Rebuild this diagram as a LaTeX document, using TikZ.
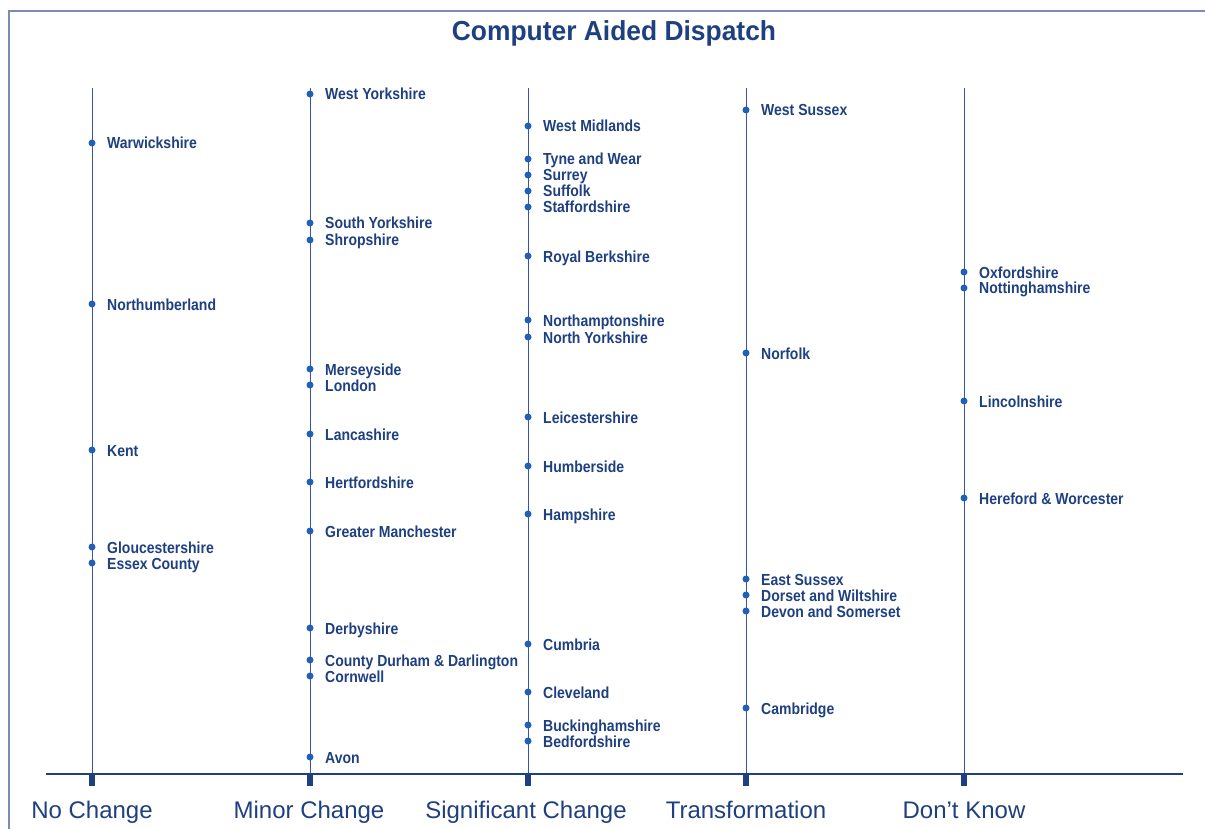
\documentclass[tikz,border=0pt]{standalone}
\usepackage{fontspec}
\setmainfont{Liberation Sans}
\newfontfamily\lblfont[FakeStretch=0.875]{Liberation Sans}
\newfontfamily\ttlfont[FakeStretch=0.96]{Liberation Sans}
\newfontfamily\catfont[FakeStretch=1.0]{Liberation Sans}
\definecolor{navy}{RGB}{30,64,128}
\definecolor{dotblue}{RGB}{32,96,184}
\definecolor{colline}{RGB}{56,84,168}
\definecolor{frame}{RGB}{120,140,180}
\tikzset{
  lbl/.style={anchor=base west, inner sep=0pt, text=navy, font=\lblfont\bfseries\fontsize{16}{18}\selectfont},
  dotnode/.style={circle, fill=dotblue, draw=none, inner sep=0pt, minimum size=7pt},
  catlbl/.style={anchor=base, inner sep=0pt, text=navy, font=\catfont\fontsize{24}{28}\selectfont},
  ttl/.style={anchor=base, inner sep=0pt, text=navy, font=\ttlfont\bfseries\fontsize{27.5}{30}\selectfont},
  tickmark/.style={rectangle, fill=navy, draw=none, inner sep=0pt, minimum width=5.5pt, minimum height=12pt},
  colline/.style={draw=colline, line width=1pt},
  axisline/.style={draw=navy, line width=1.4pt},
  framel/.style={draw=frame, line width=1.1pt}
}
\begin{document}
\begin{tikzpicture}[x=1pt,y=-1pt]
\useasboundingbox (0,0) rectangle (1205,829);
\fill[white] (0,0) rectangle (1205,829);
% frame
\coordinate (fbl) at (9,829);
\coordinate (ftl) at (9,11);
\coordinate (ftr) at (1205,11);
\draw[framel] (fbl) -- (ftl) -- (ftr);
% title
\node[ttl] (title) at (614,41) {Computer Aided Dispatch};
% columns: tops, ticks, lines
\foreach \c/\x in {1/92,2/310,3/528,4/746,5/964}{
  \coordinate (top\c) at (\x,88);
  \node[tickmark] (tick\c) at (\x,780) {};
  \draw[colline] (top\c) -- (tick\c.north);
}
% axis
\coordinate (axL) at (46,774);
\coordinate (axR) at (1183,774);
\draw[axisline] (axL) -- (axR);
% category labels
\node[catlbl] (cat1) at (92,818) {No Change};
\node[catlbl] (cat2) at (309,818) {Minor Change};
\node[catlbl] (cat3) at (526,818) {Significant Change};
\node[catlbl] (cat4) at (746,818) {Transformation};
\node[catlbl] (cat5) at (964,818) {Don’t Know};
% column 1
\foreach \y/\t [count=\i] in {143/Warwickshire,304/Northumberland,450/Kent,547/Gloucestershire,563/Essex County}{
  \node[dotnode] (a\i) at (92,\y) {};
  \node[lbl] (la\i) at (107,\y+6) {\t};
}
% column 2
\foreach \y/\t [count=\i] in {94/West Yorkshire,223/South Yorkshire,240/Shropshire,369/Merseyside,385/London,434/Lancashire,482/Hertfordshire,531/Greater Manchester,628/Derbyshire,660/County Durham \& Darlington,676/Cornwell,757/Avon}{
  \node[dotnode] (b\i) at (310,\y) {};
  \node[lbl] (lb\i) at (325,\y+6) {\t};
}
% column 3
\foreach \y/\t [count=\i] in {126/West Midlands,159/Tyne and Wear,175/Surrey,191/Suffolk,207/Staffordshire,256/Royal Berkshire,320/Northamptonshire,337/North Yorkshire,417/Leicestershire,466/Humberside,514/Hampshire,644/Cumbria,692/Cleveland,725/Buckinghamshire,741/Bedfordshire}{
  \node[dotnode] (c\i) at (528,\y) {};
  \node[lbl] (lc\i) at (543,\y+6) {\t};
}
% column 4
\foreach \y/\t [count=\i] in {110/West Sussex,353/Norfolk,579/East Sussex,595/Dorset and Wiltshire,611/Devon and Somerset,708/Cambridge}{
  \node[dotnode] (d\i) at (746,\y) {};
  \node[lbl] (ld\i) at (761,\y+6) {\t};
}
% column 5
\foreach \y/\t [count=\i] in {272/Oxfordshire,288/Nottinghamshire,401/Lincolnshire,498/Hereford \& Worcester}{
  \node[dotnode] (e\i) at (964,\y) {};
  \node[lbl] (le\i) at (979,\y+6) {\t};
}
\end{tikzpicture}
\end{document}
